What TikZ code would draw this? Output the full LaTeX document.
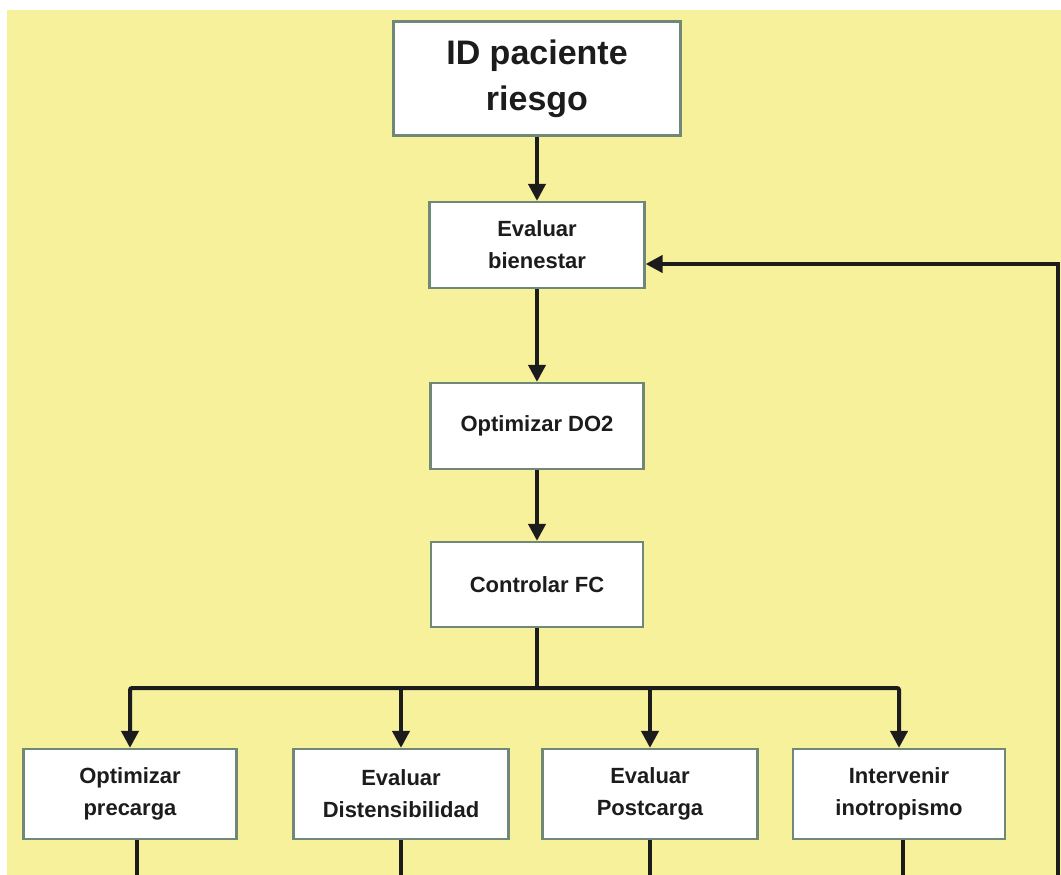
\documentclass[tikz,border=0pt]{standalone}
\usepackage{fontspec}
\setmainfont{Liberation Sans}
\usetikzlibrary{arrows.meta}
\definecolor{bgyellow}{HTML}{F7F19C}
\definecolor{boxline}{HTML}{6F8878}
\definecolor{ink}{HTML}{1C1C1C}
\tikzset{
  box/.style={draw=boxline, line width=2.2pt, fill=white, align=center, inner sep=0pt,
    text=ink, font=\bfseries\fontsize{22}{32}\selectfont},
  bigbox/.style={box, font=\bfseries\fontsize{34}{46}\selectfont},
  conn/.style={draw=ink, line width=4pt},
  arr/.style={conn, -{Triangle[length=17pt,width=17pt]}},
}
\begin{document}
\begin{tikzpicture}[x=1pt,y=-1pt]
\useasboundingbox (0,0) rectangle (1061,875);
\fill[white] (0,0) rectangle (1061,875);
\fill[bgyellow] (7,10) rectangle (1061,875);

\node[bigbox, minimum width=287pt, minimum height=114pt] (id) at (537,78.5) {ID paciente\\riesgo};
\node[box, minimum width=215pt, minimum height=86pt] (eb) at (537,245) {Evaluar\\bienestar};
\node[box, minimum width=213pt, minimum height=86pt] (do2) at (537,426) {Optimizar DO2};
\node[box, minimum width=212pt, minimum height=85pt] (fc) at (537,584.5) {Controlar FC};

\node[box, minimum width=213pt, minimum height=90pt] (b1) at (130,794) {Optimizar\\precarga};
\node[box, minimum width=215pt, minimum height=90pt] (b2) at (401,794) {Evaluar\\Distensibilidad};
\node[box, minimum width=215pt, minimum height=90pt] (b3) at (650,794) {Evaluar\\Postcarga};
\node[box, minimum width=212pt, minimum height=90pt] (b4) at (899,794) {Intervenir\\inotropismo};

\draw[arr] (id) -- (eb);
\draw[arr] (eb) -- (do2);
\draw[arr] (do2) -- (fc);

\coordinate (br) at (537,688);
\draw[conn] (fc.south) -- (br);
\draw[arr, rounded corners=2pt] (br) -| (b1.north);
\draw[arr, rounded corners=2pt] (br) -| (b4.north);
\draw[arr] (b2.north |- br) -- (b2.north);
\draw[arr] (b3.north |- br) -- (b3.north);

\coordinate (d1) at (137,875);
\coordinate (d2) at (401,875);
\coordinate (d3) at (650,875);
\coordinate (d4) at (903,875);
\draw[conn] (b1.south -| d1) -- (d1);
\draw[conn] (b2.south -| d2) -- (d2);
\draw[conn] (b3.south -| d3) -- (d3);
\draw[conn] (b4.south -| d4) -- (d4);

\coordinate (fbbot) at (1058,875);
\coordinate (fbcorner) at (1058,264);
\draw[arr] (fbbot) -- (fbcorner) -- (eb.east |- fbcorner);
\end{tikzpicture}
\end{document}
